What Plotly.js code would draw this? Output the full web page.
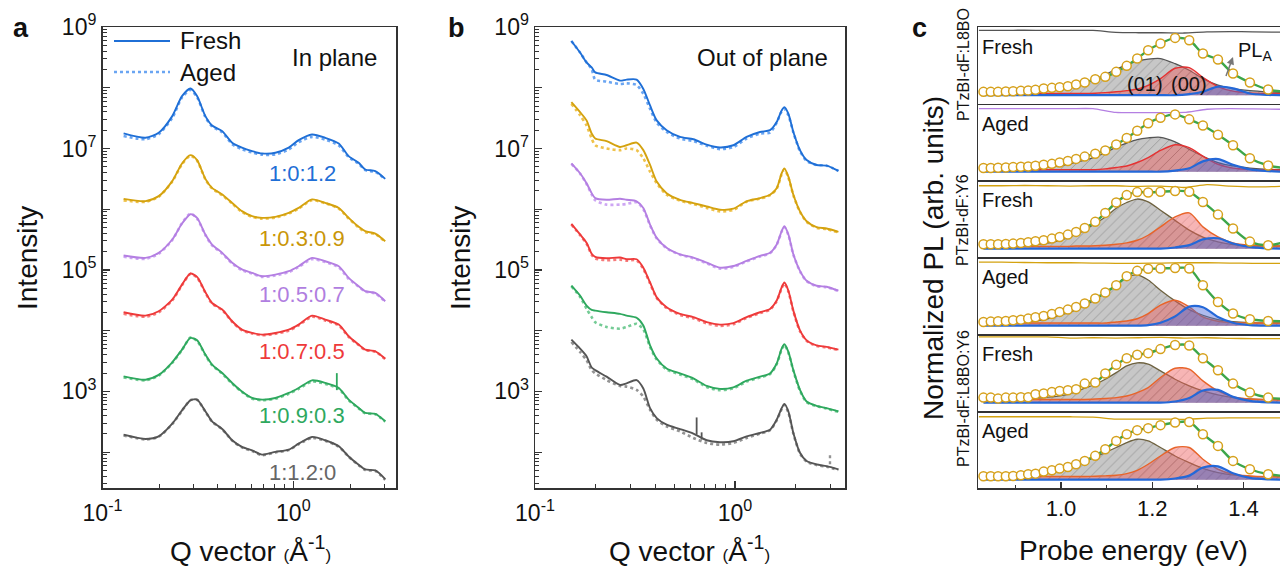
<!DOCTYPE html>
<html><head><meta charset="utf-8">
<script src="https://cdn.plot.ly/plotly-3.0.1.min.js"></script>
<style>html,body{margin:0;padding:0;background:#fff}#chart{width:1280px;height:568px}</style>
</head><body><div id="chart"></div>
<script>
// ---------- Panel a: in-plane GIWAXS line cuts ----------
const qA = [0.129,0.168,0.197,0.232,0.261,0.289,0.313,0.346,0.375,0.424,0.478,0.538,0.608,0.686,0.805,0.946,1.066,1.253,1.47,1.73,1.95,2.20,2.38,2.69,3.03];
const aFreshBlue   = [1.77e7,1.50e7,1.81e7,3.41e7,7.28e7,9.73e7,7.28e7,3.41e7,2.39e7,1.93e7,1.24e7,1.03e7,9.04e6,8.28e6,8.49e6,1.03e7,1.37e7,1.70e7,1.50e7,1.21e7,7.48e6,5.81e6,4.51e6,4.24e6,3.16e6];
const aAgedBlue    = [1.60e7,1.42e7,1.72e7,3.20e7,6.90e7,9.20e7,7.00e7,3.30e7,2.30e7,1.85e7,1.18e7,9.70e6,8.60e6,7.90e6,8.00e6,9.60e6,1.27e7,1.55e7,1.40e7,1.12e7,7.20e6,5.60e6,4.40e6,4.10e6,3.10e6];
const aFreshYellow = [1.48e6,1.36e6,1.64e6,2.90e6,5.66e6,7.76e6,6.43e6,3.16e6,2.25e6,1.75e6,1.27e6,9.29e5,7.67e5,7.21e5,7.48e5,8.71e5,1.05e6,1.45e6,1.27e6,1.05e6,7.21e5,5.13e5,4.35e5,3.98e5,2.97e5];
const aAgedYellow  = [1.40e6,1.32e6,1.60e6,2.85e6,5.50e6,7.60e6,6.30e6,3.10e6,2.20e6,1.70e6,1.24e6,9.00e5,7.50e5,7.00e5,7.30e5,8.50e5,1.02e6,1.40e6,1.25e6,1.02e6,7.00e5,5.00e5,4.20e5,3.90e5,2.90e5];
const aFreshPurple = [1.73e5,1.58e5,1.91e5,3.17e5,5.81e5,8.28e5,7.21e5,3.83e5,2.62e5,1.91e5,1.31e5,1.02e5,8.95e4,7.89e4,8.39e4,9.53e4,1.15e5,1.58e5,1.39e5,1.15e5,7.40e4,5.40e4,4.47e4,4.19e4,3.05e4];
const aAgedPurple  = [1.65e5,1.52e5,1.85e5,3.10e5,5.90e5,8.50e5,7.00e5,3.75e5,2.55e5,1.85e5,1.28e5,9.90e4,8.70e4,7.70e4,8.10e4,9.20e4,1.12e5,1.50e5,1.35e5,1.10e5,7.10e4,5.30e4,4.40e4,4.10e4,3.00e4];
const aFreshRed    = [2.01e4,1.77e4,2.09e4,3.25e4,5.74e4,8.73e4,7.69e4,4.30e4,2.86e4,2.23e4,1.43e4,1.04e4,9.18e3,8.63e3,9.18e3,1.04e4,1.26e4,1.77e4,1.52e4,1.26e4,8.10e3,5.90e3,4.89e3,4.58e3,3.47e3];
const aAgedRed     = [1.90e4,1.70e4,2.00e4,3.15e4,5.60e4,8.60e4,7.50e4,4.20e4,2.80e4,2.18e4,1.40e4,1.01e4,9.00e3,8.40e3,8.90e3,1.00e4,1.22e4,1.70e4,1.47e4,1.22e4,7.90e3,5.80e3,4.80e3,4.50e3,3.40e3];
const aFreshGreen  = [1.77e3,1.56e3,1.87e3,3.02e3,4.89e3,7.60e3,6.95e3,4.04e3,2.77e3,2.01e3,1.38e3,1.00e3,780,733,780,944,1.14e3,1.52e3,1.38e3,1.14e3,733,535,442,426,322];
const aAgedGreen   = [1.70e3,1.52e3,1.82e3,2.95e3,4.80e3,7.70e3,6.80e3,3.95e3,2.70e3,1.96e3,1.34e3,980,760,715,760,910,1.10e3,1.45e3,1.33e3,1.10e3,715,525,435,420,318];
const aFreshGray   = [194,165,182,294,489,714,733,471,322,241,157,122,107,91,101,110,138,178,157,125,85,62,52,50,36];
const aAgedGray    = [188,162,180,290,480,720,725,465,318,238,155,120,104,89,99,108,135,172,154,123,84,61,51,49,35];
const aSpikeQ = [1.69,1.69];
const aSpikeGreen = [1.05e3,2.0e3];

// ---------- Panel b: out-of-plane line cuts ----------
const qB = [0.152,0.168,0.181,0.192,0.200,0.228,0.266,0.287,0.322,0.348,0.376,0.406,0.455,0.531,0.619,0.722,0.841,0.981,1.143,1.334,1.496,1.616,1.711,1.765,1.849,1.958,2.113,2.281,2.559,2.871,3.289];
const bFreshBlue   = [5.89e8,3.80e8,2.61e8,2.16e8,1.79e8,1.62e8,1.31e8,1.36e8,1.36e8,9.55e7,5.11e7,2.90e7,2.00e7,1.55e7,1.42e7,1.16e7,1.04e7,1.13e7,1.55e7,1.87e7,2.00e7,2.73e7,4.23e7,4.80e7,3.73e7,1.87e7,9.39e6,6.44e6,5.35e6,5.21e6,4.27e6];
const bAgedBlue    = [5.89e8,3.80e8,2.61e8,2.03e8,1.36e8,1.26e8,1.15e8,1.18e8,1.11e8,7.93e7,4.51e7,2.66e7,1.87e7,1.46e7,1.32e7,1.11e7,9.75e6,1.05e7,1.46e7,1.76e7,1.83e7,2.66e7,4.07e7,4.51e7,3.51e7,1.83e7,9.04e6,6.21e6,5.35e6,5.21e6,4.27e6];
const bFreshYellow = [5.79e7,3.97e7,2.90e7,1.76e7,1.46e7,1.32e7,1.06e7,1.13e7,1.25e7,9.39e6,5.35e6,2.85e6,1.84e6,1.43e6,1.26e6,1.11e6,9.82e5,1.02e6,1.35e6,1.52e6,1.73e6,2.22e6,3.91e6,4.71e6,3.44e6,1.73e6,9.23e5,6.34e5,5.06e5,4.81e5,4.24e5];
const bAgedYellow  = [5.43e7,3.51e7,2.40e7,1.46e7,1.13e7,1.00e7,9.39e6,1.00e7,9.39e6,6.87e6,4.16e6,2.68e6,1.73e6,1.38e6,1.22e6,1.05e6,9.23e5,9.71e5,1.33e6,1.49e6,1.70e6,2.17e6,3.76e6,4.53e6,3.32e6,1.70e6,9.00e5,6.20e5,4.94e5,4.70e5,4.14e5];
const bFreshPurple = [5.69e6,3.91e6,2.68e6,1.84e6,1.52e6,1.43e6,1.49e6,1.43e6,1.35e6,1.05e6,5.58e5,3.38e5,2.32e5,1.81e5,1.60e5,1.32e5,1.09e5,1.16e5,1.41e5,1.70e5,1.92e5,2.63e5,4.35e5,5.25e5,3.84e5,1.81e5,9.66e4,6.62e4,5.50e4,5.28e4,4.55e4];
const bAgedPurple  = [5.60e6,3.85e6,2.60e6,1.75e6,1.40e6,1.19e6,1.19e6,1.22e6,1.30e6,1.00e6,5.40e5,3.30e5,2.28e5,1.78e5,1.56e5,1.28e5,1.05e5,1.12e5,1.38e5,1.66e5,1.88e5,2.58e5,4.25e5,5.10e5,3.75e5,1.78e5,9.50e4,6.50e4,5.40e4,5.20e4,4.50e4];
const bFreshRed    = [5.73e5,3.84e5,2.81e5,1.85e5,1.64e5,1.56e5,1.60e5,1.50e5,1.50e5,1.09e5,6.22e4,3.54e4,2.43e4,1.89e4,1.67e4,1.38e4,1.26e4,1.33e4,1.67e4,2.01e4,2.28e4,3.13e4,5.15e4,6.22e4,4.55e4,2.14e4,1.01e4,6.93e3,5.74e3,5.40e3,4.88e3];
const bAgedRed     = [5.60e5,3.75e5,2.72e5,1.78e5,1.55e5,1.45e5,1.48e5,1.42e5,1.44e5,1.04e5,6.00e4,3.45e4,2.36e4,1.82e4,1.60e4,1.32e4,1.20e4,1.28e4,1.62e4,1.95e4,2.22e4,3.05e4,5.00e4,6.00e4,4.40e4,2.08e4,9.80e3,6.80e3,5.60e3,5.30e3,4.80e3];
const bFreshGreen  = [5.50e4,3.77e4,2.59e4,2.20e4,2.14e4,2.01e4,1.89e4,1.77e4,1.63e4,1.22e4,5.74e3,3.48e3,2.39e3,1.98e3,1.64e3,1.23e3,1.10e3,1.17e3,1.50e3,1.75e3,1.98e3,2.88e3,5.07e3,5.97e3,4.47e3,2.24e3,1.06e3,681,580,530,468];
const bAgedGreen   = [5.40e4,3.60e4,2.30e4,1.67e4,1.38e4,1.15e4,1.08e4,1.15e4,1.30e4,1.05e4,5.40e3,3.35e3,2.30e3,1.90e3,1.58e3,1.18e3,1.05e3,1.12e3,1.45e3,1.70e3,1.92e3,2.80e3,4.90e3,5.80e3,4.35e3,2.18e3,1.03e3,665,570,520,460];
const bFreshGray   = [7.11e3,5.07e3,3.80e3,2.48e3,2.24e3,1.75e3,1.28e3,1.36e3,1.54e3,1.12e3,530,364,283,240,202,157,146,151,182,207,234,342,530,624,468,207,97.5,71.3,62.8,59.0,52.1];
const bAgedGray    = [6.51e3,4.47e3,3.27e3,2.24e3,1.98e3,1.54e3,1.23e3,1.20e3,1.06e3,822,498,342,266,220,171,142,133,142,171,202,229,333,511,601,451,202,95.1,69.5,61.4,57.5,50.8];
const bSpikeQ1 = [0.643,0.643];
const bSpikeGray1 = [195,373];
const bSpikeQ2 = [0.681,0.681];
const bSpikeGray2 = [161,212];
const bSpikeQ3 = [2.985,2.985];
const bSpikeGrayAged = [63,100];

// ---------- Panel c: PL spectra with Gaussian components ----------
const Ec = [0.830,0.846,0.862,0.879,0.895,0.912,0.928,0.944,0.962,0.980,0.997,1.015,1.033,1.052,1.075,1.097,1.121,1.144,1.167,1.191,1.218,1.250,1.281,1.311,1.344,1.377,1.414,1.454,1.494];
const Er = [0.82,0.87,0.92,0.97,1.02,1.07,1.12,1.17,1.22,1.27,1.32,1.37,1.42,1.48];

const plL8Fresh   = [0.058,0.058,0.058,0.064,0.070,0.076,0.081,0.093,0.116,0.128,0.140,0.157,0.186,0.221,0.279,0.320,0.407,0.512,0.640,0.785,0.902,1.0,0.960,0.727,0.622,0.378,0.221,0.099,0.06];
const grayL8Fresh = [0.03,0.03,0.03,0.035,0.04,0.042,0.047,0.058,0.076,0.093,0.116,0.14,0.175,0.22,0.28,0.36,0.454,0.535,0.593,0.63,0.64,0.55,0.436,0.29,0.175,0.116,0.08,0.058,0.045];
const redL8Fresh  = [0.03,0.03,0.03,0.03,0.03,0.03,0.03,0.03,0.03,0.03,0.03,0.03,0.03,0.03,0.035,0.045,0.06,0.08,0.105,0.17,0.29,0.47,0.48,0.31,0.15,0.07,0.04,0.03,0.03];
const blueL8Fresh = [0,0,0,0,0,0,0,0,0,0,0,0,0,0,0,0,0,0,0,0,0,0,0.02,0.06,0.15,0.12,0.03,0.005,0];
const resL8Fresh  = [1.13,1.13,1.135,1.13,1.13,1.13,1.095,1.09,1.09,1.085,1.105,1.11,1.105,1.10];

const plL8Aged    = [0.063,0.063,0.068,0.074,0.080,0.086,0.091,0.103,0.120,0.137,0.160,0.188,0.223,0.263,0.314,0.371,0.474,0.588,0.713,0.845,0.942,1.0,0.913,0.805,0.645,0.462,0.234,0.108,0.06];
const grayL8Aged  = [0.03,0.03,0.03,0.03,0.032,0.035,0.04,0.046,0.063,0.086,0.103,0.131,0.166,0.20,0.257,0.33,0.43,0.50,0.56,0.59,0.60,0.52,0.39,0.27,0.16,0.10,0.063,0.04,0.035];
const redL8Aged   = [0.035,0.035,0.035,0.035,0.035,0.035,0.035,0.035,0.035,0.035,0.035,0.035,0.035,0.035,0.035,0.05,0.074,0.10,0.16,0.245,0.37,0.47,0.42,0.27,0.13,0.063,0.04,0.03,0.03];
const blueL8Aged  = [0,0,0,0,0,0,0,0,0,0,0,0,0,0,0,0,0,0,0,0,0,0.02,0.06,0.18,0.22,0.12,0.04,0.01,0];
const resL8Aged   = [1.10,1.10,1.10,1.10,1.10,1.10,1.035,1.03,1.03,1.035,1.09,1.10,1.095,1.09];

const plY6Fresh   = [0.075,0.075,0.075,0.081,0.087,0.099,0.110,0.128,0.145,0.174,0.203,0.243,0.290,0.359,0.464,0.620,0.80,0.928,0.98,0.974,0.986,1.0,0.986,0.81,0.59,0.348,0.122,0.058,0.12];
const grayY6Fresh = [0.05,0.05,0.05,0.05,0.055,0.06,0.065,0.07,0.087,0.11,0.145,0.19,0.25,0.32,0.435,0.55,0.70,0.80,0.86,0.81,0.667,0.49,0.32,0.20,0.116,0.07,0.052,0.046,0.045];
const redY6Fresh  = [0.04,0.04,0.04,0.04,0.04,0.04,0.04,0.04,0.04,0.04,0.04,0.04,0.045,0.045,0.05,0.06,0.075,0.099,0.145,0.232,0.377,0.55,0.62,0.377,0.203,0.099,0.058,0.046,0.045];
const blueY6Fresh = [0,0,0,0,0,0,0,0,0,0,0,0,0,0,0,0,0,0,0,0,0,0.02,0.06,0.16,0.18,0.09,0.03,0.005,0];
const resY6Fresh  = [1.09,1.09,1.095,1.09,1.085,1.09,1.09,1.08,1.085,1.06,1.11,1.085,1.07,1.08];

const plY6Aged    = [0.064,0.07,0.075,0.081,0.093,0.104,0.122,0.145,0.168,0.203,0.238,0.278,0.325,0.383,0.47,0.574,0.70,0.858,0.95,0.985,0.99,1.0,0.99,0.70,0.41,0.21,0.11,0.081,0.075];
const grayY6Aged  = [0.05,0.05,0.05,0.055,0.06,0.065,0.072,0.081,0.104,0.139,0.18,0.22,0.278,0.354,0.45,0.57,0.70,0.84,0.88,0.79,0.615,0.43,0.278,0.18,0.104,0.07,0.052,0.046,0.045];
const redY6Aged   = [0.045,0.045,0.045,0.045,0.045,0.045,0.045,0.045,0.045,0.045,0.045,0.045,0.045,0.045,0.045,0.045,0.064,0.081,0.12,0.21,0.354,0.44,0.325,0.15,0.075,0.052,0.047,0.046,0.045];
const blueY6Aged  = [0,0,0,0,0,0,0,0,0,0,0,0,0,0,0,0,0,0,0,0.01,0.05,0.16,0.33,0.32,0.15,0.05,0.01,0,0];
const resY6Aged   = [1.10,1.10,1.095,1.09,1.09,1.085,1.08,1.08,1.085,1.09,1.09,1.085,1.08,1.08];

const plMixFresh   = [0.087,0.087,0.07,0.087,0.087,0.093,0.093,0.145,0.157,0.186,0.203,0.214,0.232,0.330,0.348,0.504,0.655,0.771,0.829,0.858,0.928,1.0,0.99,0.771,0.562,0.330,0.174,0.087,0.06];
const grayMixFresh = [0.06,0.06,0.065,0.065,0.07,0.07,0.075,0.08,0.087,0.099,0.116,0.145,0.19,0.25,0.319,0.406,0.52,0.638,0.69,0.667,0.55,0.406,0.29,0.203,0.133,0.087,0.064,0.052,0.05];
const redMixFresh  = [0.055,0.055,0.055,0.055,0.055,0.055,0.055,0.055,0.055,0.055,0.055,0.055,0.055,0.055,0.062,0.072,0.087,0.116,0.174,0.26,0.435,0.597,0.58,0.377,0.203,0.099,0.064,0.052,0.05];
const blueMixFresh = [0,0,0,0,0,0,0,0,0,0,0,0,0,0,0,0,0,0,0,0,0,0.02,0.08,0.21,0.22,0.10,0.03,0.005,0];
const resMixFresh  = [1.14,1.14,1.14,1.14,1.12,1.125,1.12,1.125,1.13,1.12,1.125,1.115,1.11,1.11];

const plMixAged    = [0.058,0.058,0.058,0.058,0.064,0.075,0.093,0.104,0.139,0.162,0.191,0.22,0.267,0.325,0.412,0.528,0.672,0.788,0.858,0.893,0.945,0.99,1.0,0.788,0.585,0.325,0.18,0.093,0.06];
const grayMixAged  = [0.05,0.05,0.05,0.055,0.06,0.065,0.07,0.075,0.093,0.116,0.151,0.197,0.255,0.313,0.394,0.47,0.557,0.643,0.70,0.672,0.557,0.41,0.296,0.197,0.122,0.081,0.058,0.052,0.05];
const redMixAged   = [0.055,0.055,0.055,0.055,0.055,0.055,0.055,0.055,0.055,0.055,0.055,0.055,0.055,0.055,0.06,0.065,0.075,0.104,0.162,0.267,0.41,0.557,0.557,0.354,0.18,0.093,0.064,0.052,0.05];
const blueMixAged  = [0,0,0,0,0,0,0,0,0,0,0,0,0,0,0,0,0,0,0,0,0,0.02,0.07,0.21,0.23,0.11,0.03,0.005,0];
const resMixAged   = [1.09,1.09,1.09,1.09,1.09,1.085,1.05,1.05,1.05,1.045,1.065,1.07,1.07,1.07];

// ---------- labels ----------
const ratioLabels = ['1:0:1.2','1:0.3:0.9','1:0.5:0.7','1:0.7:0.5','1:0.9:0.3','1:1.2:0'];
const stateLabels = ['Fresh','Aged','Fresh','Aged','Fresh','Aged'];
const blendLabels = ['PTzBI-dF:L8BO','PTzBI-dF:Y6','PTzBI-dF:L8BO:Y6'];
const yMajorVals = [1e3,1e5,1e7,1e9];
const yMajorText = ['10<sup>3</sup>','10<sup>5</sup>','10<sup>7</sup>','10<sup>9</sup>'];
const yEvenDecades = [1e2,1e4,1e6,1e8];
const xMajorVals = [0.1,1];
const xMajorText = ['10<sup>-1</sup>','10<sup>0</sup>'];
const xMinorVals = [0.2,0.3,0.4,0.5,0.6,0.7,0.8,0.9,2,3];
const eTickVals = [1.0,1.2,1.4];
const eTickText = ['1.0','1.2','1.4'];
const eMinorVals = [0.9,1.1,1.3];

// ---------- build ----------
const W = 1280, H = 568;
const PX = v => v / W, PY = v => 1 - v / H;
const yMinorVals = [];
for (let d = 1; d <= 8; d++) for (let k = 2; k <= 9; k++) yMinorVals.push(k * Math.pow(10, d));

const freshCols = ['#1f6fd6','#d4a20f','#b47fe2','#ee3a3a','#2ea85e','#555555'];
const agedCols  = ['#6aa5f2','#efc24a','#cda6f3','#f67b7b','#74cb95','#939393'];
const labelCols = ['#1f6fd6','#c99608','#b07ee0','#ee3a3a','#2ea85e','#666666'];

const aFresh = [aFreshBlue,aFreshYellow,aFreshPurple,aFreshRed,aFreshGreen,aFreshGray];
const aAged  = [aAgedBlue,aAgedYellow,aAgedPurple,aAgedRed,aAgedGreen,aAgedGray];
const bFresh = [bFreshBlue,bFreshYellow,bFreshPurple,bFreshRed,bFreshGreen,bFreshGray];
const bAged  = [bAgedBlue,bAgedYellow,bAgedPurple,bAgedRed,bAgedGreen,bAgedGray];

const traces = [];
function addCurves(q, fresh, aged, xa, ya) {
  for (let i = 0; i < fresh.length; i++) {
    traces.push({x:q, y:aged[i], xaxis:xa, yaxis:ya, mode:'lines', showlegend:false, hoverinfo:'skip',
      line:{color:agedCols[i], width:2.6, dash:'dot', shape:'spline', smoothing:0.7}});
    traces.push({x:q, y:fresh[i], xaxis:xa, yaxis:ya, mode:'lines', showlegend:false, hoverinfo:'skip',
      line:{color:freshCols[i], width:1.9, shape:'spline', smoothing:0.7}});
  }
}
addCurves(qA, aFresh, aAged, 'x', 'y');
addCurves(qB, bFresh, bAged, 'x2', 'y2');
traces.push({x:aSpikeQ, y:aSpikeGreen, xaxis:'x', yaxis:'y', mode:'lines', showlegend:false, line:{color:freshCols[4], width:1.8}});
traces.push({x:bSpikeQ1, y:bSpikeGray1, xaxis:'x2', yaxis:'y2', mode:'lines', showlegend:false, line:{color:freshCols[5], width:1.8}});
traces.push({x:bSpikeQ2, y:bSpikeGray2, xaxis:'x2', yaxis:'y2', mode:'lines', showlegend:false, line:{color:freshCols[5], width:1.8}});
traces.push({x:bSpikeQ3, y:bSpikeGrayAged, xaxis:'x2', yaxis:'y2', mode:'lines', showlegend:false, line:{color:agedCols[5], width:2.4, dash:'dot'}});

// panel c subplots
const cSets = [
  {pl:plL8Fresh, g:grayL8Fresh, r:redL8Fresh, b:blueL8Fresh, res:resL8Fresh, resCol:'#555555', gCol:'#555555', rCol:'#e53232'},
  {pl:plL8Aged,  g:grayL8Aged,  r:redL8Aged,  b:blueL8Aged,  res:resL8Aged,  resCol:'#b47fe2', gCol:'#555555', rCol:'#e53232'},
  {pl:plY6Fresh, g:grayY6Fresh, r:redY6Fresh, b:blueY6Fresh, res:resY6Fresh, resCol:'#d4a20f', gCol:'#6e6240', rCol:'#e8642a'},
  {pl:plY6Aged,  g:grayY6Aged,  r:redY6Aged,  b:blueY6Aged,  res:resY6Aged,  resCol:'#d4a20f', gCol:'#6e6240', rCol:'#e8642a'},
  {pl:plMixFresh,g:grayMixFresh,r:redMixFresh,b:blueMixFresh,res:resMixFresh,resCol:'#d4a20f', gCol:'#6e6240', rCol:'#e8642a'},
  {pl:plMixAged, g:grayMixAged, r:redMixAged, b:blueMixAged, res:resMixAged, resCol:'#d4a20f', gCol:'#6e6240', rCol:'#e8642a'}
];
const cTops = [27,103.5,180,257,334,411];
const cBots = [103.5,180,257,334,411,488];
cSets.forEach((s, i) => {
  const xa = 'x' + (i + 3), ya = 'y' + (i + 3);
  const sp = {shape:'spline', smoothing:0.8};
  traces.push({x:Ec, y:s.g, xaxis:xa, yaxis:ya, mode:'lines', showlegend:false, hoverinfo:'skip',
    line:Object.assign({color:s.gCol, width:1.3}, sp), fill:'tozeroy', fillcolor:'rgba(165,165,165,0.62)',
    fillpattern:{shape:'/', fgcolor:'rgba(95,95,95,0.55)', bgcolor:'rgba(165,165,165,0.62)', size:7, solidity:0.1}});
  traces.push({x:Ec, y:s.r, xaxis:xa, yaxis:ya, mode:'lines', showlegend:false, hoverinfo:'skip',
    line:Object.assign({color:s.rCol, width:1.4}, sp), fill:'tozeroy', fillcolor:'rgba(238,90,90,0.45)',
    fillpattern:{shape:'/', fgcolor:'rgba(140,70,70,0.35)', bgcolor:'rgba(238,90,90,0.45)', size:7, solidity:0.1}});
  traces.push({x:Ec, y:s.b, xaxis:xa, yaxis:ya, mode:'lines', showlegend:false, hoverinfo:'skip',
    line:Object.assign({color:'#2468d8', width:2.2}, sp), fill:'tozeroy', fillcolor:'rgba(75,105,215,0.45)'});
  traces.push({x:Er, y:s.res, xaxis:xa, yaxis:ya, mode:'lines', showlegend:false, hoverinfo:'skip',
    line:{color:s.resCol, width:1.3, shape:'spline', smoothing:0.6}});
  traces.push({x:Ec, y:s.pl, xaxis:xa, yaxis:ya, mode:'lines+markers', showlegend:false, hoverinfo:'skip',
    line:Object.assign({color:'#3da64a', width:2.4}, sp),
    marker:{size:9, color:'#ffffff', line:{color:'#d6a11c', width:1.5}}});
});

// axes
const lineStyle = {showline:true, linecolor:'#333', linewidth:1.5, showgrid:false, zeroline:false, fixedrange:true};
function logX(dom, range, anchor) {
  return Object.assign({}, lineStyle, {domain:dom, range:range, type:'log', anchor:anchor, mirror:true,
    ticks:'inside', ticklen:7, tickwidth:1.2, tickcolor:'#333', tickmode:'array', tickvals:xMajorVals, ticktext:xMajorText,
    tickfont:{size:23, color:'#111'}, ticklabelstandoff:4,
    minor:{ticks:'inside', ticklen:4, tickwidth:1, tickcolor:'#333', tickmode:'array', tickvals:xMinorVals}});
}
function logY(dom, anchor) {
  return Object.assign({}, lineStyle, {domain:dom, range:[1.41, 9], type:'log', anchor:anchor, mirror:true,
    ticks:'inside', ticklen:7, tickwidth:1.2, tickcolor:'#333', tickmode:'array', tickvals:yMajorVals, ticktext:yMajorText,
    tickfont:{size:23, color:'#111'},
    minor:{ticks:'inside', ticklen:4, tickwidth:1, tickcolor:'#333', tickmode:'array', tickvals:yMinorVals}});
}
// unlabeled long ticks at even decades: overlay axes with no labels
function evenY(dom, anchor, overlay) {
  return {domain:dom, range:[1.41, 9], type:'log', anchor:anchor, overlaying:overlay, showline:false, showgrid:false, zeroline:false,
    ticks:'inside', ticklen:7, tickwidth:1.2, tickcolor:'#333', tickmode:'array', tickvals:yEvenDecades, showticklabels:false, fixedrange:true};
}
const ydomAB = [PY(488), PY(27)];
const layout = {
  width:W, height:H, margin:{l:0, r:0, t:0, b:0}, paper_bgcolor:'#fff', plot_bgcolor:'rgba(0,0,0,0)',
  font:{family:'Liberation Sans, Arial, Helvetica, sans-serif', color:'#111'}, showlegend:false,
  xaxis: logX([PX(102.5), PX(396)], [-1, 0.538], 'y'),
  yaxis: logY(ydomAB, 'x'),
  xaxis2: logX([PX(535), PX(845)], [-1, 0.55], 'y2'),
  yaxis2: logY(ydomAB, 'x2'),
  yaxis9: evenY(ydomAB, 'x', 'y'),
  yaxis10: evenY(ydomAB, 'x2', 'y2'),
  annotations: [], shapes: []
};
for (let i = 0; i < 6; i++) {
  const n = i + 3, last = (i === 5);
  layout['xaxis' + n] = Object.assign({}, lineStyle, {domain:[PX(978), 1], range:[0.818, 1.48], anchor:'y' + n, mirror:(i === 0),
    ticks: last ? 'inside' : '', ticklen:6, tickwidth:1.2, tickcolor:'#333', showticklabels:last,
    tickmode:'array', tickvals:eTickVals, ticktext:eTickText, tickfont:{size:22, color:'#111'}, ticklabelstandoff:0,
    minor: last ? {ticks:'inside', ticklen:3.5, tickwidth:1, tickcolor:'#333', tickmode:'array', tickvals:eMinorVals} : {ticks:''}});
  layout['yaxis' + n] = Object.assign({}, lineStyle, {domain:[PY(cBots[i]), PY(cTops[i])], range:[-0.145, 1.19], anchor:'x' + n,
    mirror:false, ticks:'', showticklabels:false});
}
// empty traces to activate the even-decade tick axes
traces.push({x:[], y:[], xaxis:'x', yaxis:'y9', mode:'lines', showlegend:false});
traces.push({x:[], y:[], xaxis:'x2', yaxis:'y10', mode:'lines', showlegend:false});

const A = layout.annotations;
function txt(text, x, y, size, opts) {
  A.push(Object.assign({text:text, x:PX(x), y:PY(y), xref:'paper', yref:'paper', showarrow:false,
    font:{size:size, color:'#111'}, xanchor:'center', yanchor:'middle'}, opts || {}));
}
// panel letters
txt('<b>a</b>', 21, 28, 27); txt('<b>b</b>', 456, 28, 27); txt('<b>c</b>', 919, 28, 27);
// axis titles
const smallParen = s => '<span style="font-size:17px">' + s + '</span>';
txt('Intensity', 27, 258, 28, {textangle:-90});
txt('Intensity', 460, 258, 28, {textangle:-90});
txt('Q vector ' + smallParen('(') + 'Å<sup>-1</sup>' + smallParen(')'), 250, 549, 28);
txt('Q vector ' + smallParen('(') + 'Å<sup>-1</sup>' + smallParen(')'), 689, 549, 28);
txt('Normalized PL (arb. units)', 933, 258, 28, {textangle:-90});
txt('Probe energy (eV)', 1133, 550, 28);
// panel a/b labels
txt('In plane', 334, 58, 24); txt('Out of plane', 762, 58, 24);
const ratioY = [173, 238, 294, 351, 415, 472];
ratioLabels.forEach((t, i) => txt(t, 302, ratioY[i], 22, {font:{size:22, color:labelCols[i]}}));
// legend (panel a)
txt('Fresh', 178, 41, 24, {xanchor:'left'});
txt('Aged', 178, 72, 24, {xanchor:'left'});
layout.shapes.push({type:'line', xref:'paper', yref:'paper', x0:PX(114), x1:PX(170), y0:PY(41), y1:PY(41), line:{color:freshCols[0], width:2}});
layout.shapes.push({type:'line', xref:'paper', yref:'paper', x0:PX(114), x1:PX(170), y0:PY(72), y1:PY(72), line:{color:agedCols[0], width:2.6, dash:'dot'}});
// panel c labels
stateLabels.forEach((t, i) => txt(t, 980, cTops[i] + 20, 20, {xanchor:'left'}));
const blendY = [65, 220, 399];
blendLabels.forEach((t, i) => txt(t, 963, blendY[i], 16, {textangle:-90}));
txt('(01)', 1145, 84, 20); txt('(00)', 1189, 84, 20);
txt('PL<sub>A</sub>', 1255, 51, 20);
A.push({text:' ', xref:'paper', yref:'paper', x:PX(1233), y:PY(57), ax:-10, ay:27, axref:'pixel', ayref:'pixel',
  showarrow:true, arrowhead:2, arrowsize:1, arrowwidth:1.5, arrowcolor:'#777'});

Plotly.newPlot('chart', traces, layout, {displayModeBar:false, staticPlot:true});
</script></body></html>
